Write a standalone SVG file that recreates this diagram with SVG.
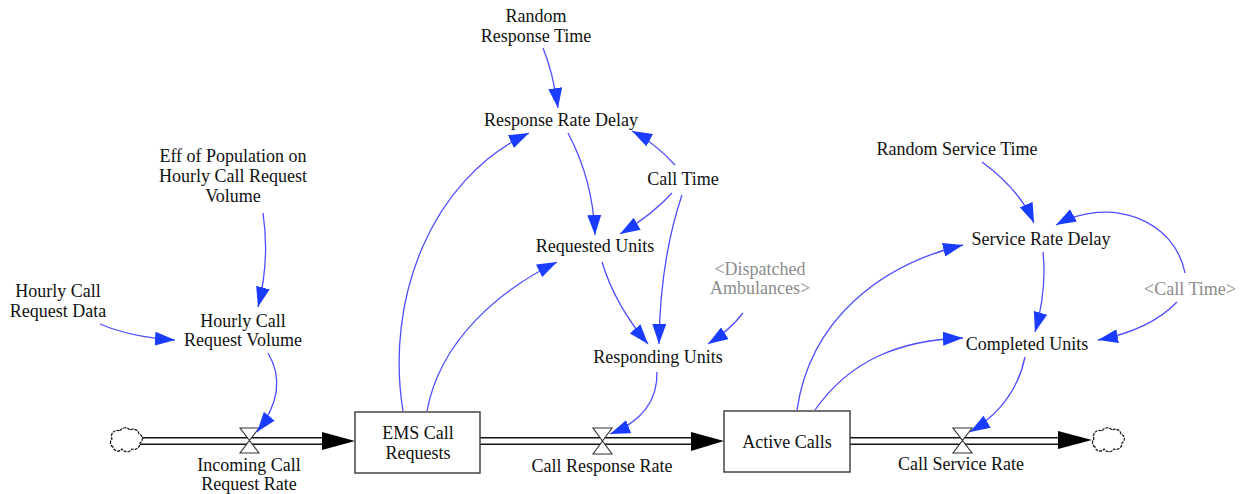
<svg xmlns="http://www.w3.org/2000/svg" width="1242" height="494" viewBox="0 0 1242 494" font-family="'Liberation Serif', 'Times New Roman', Times, serif">
  <style>
    text { font-family: 'Liberation Serif', 'Times New Roman', Times, serif; font-size: 18px; fill: #111; text-anchor: middle; }
    text.shadow { fill: #8c8c8c; }
    .stock { fill: #fff; stroke: #444; stroke-width: 1.5; }
    .pipe-out { fill: none; stroke: #111; stroke-width: 8; }
    .pipe-in { fill: none; stroke: #fff; stroke-width: 5; }
    .valve { fill: #fff; stroke: #333; stroke-width: 1.1; }
    .cloud { fill: #fff; stroke: #111; stroke-width: 1.2; stroke-dasharray: 3 1; }
    .flowhead { fill: #000; }
    .link { fill: none; stroke: #4d4dff; stroke-width: 1.3; marker-end: url(#arrow); }
  </style>
  <defs>
    <marker id="arrow" viewBox="0 0 20 14" refX="20" refY="7" markerWidth="20" markerHeight="14" markerUnits="userSpaceOnUse" orient="auto">
      <path d="M0,0 L20,7 L0,14 Z" fill="#1a3cff"/>
    </marker>
  </defs>

  <rect width="1242" height="494" fill="#fff"/>

  <!-- flow pipes -->
  <g id="pipes">
    <path class="pipe-out" d="M140,441 H324"/>
    <path class="pipe-in" d="M140,441 H324"/>
    <path class="pipe-out" d="M480,441 H693"/>
    <path class="pipe-in" d="M480,441 H693"/>
    <path class="pipe-out" d="M850,441 H1060"/>
    <path class="pipe-in" d="M850,441 H1060"/>
    <polygon class="flowhead" points="322,432 355,441 322,450"/>
    <polygon class="flowhead" points="691,432 724,441 691,451"/>
    <polygon class="flowhead" points="1058,431 1092,440 1058,449"/>
  </g>

  <!-- source and sink clouds -->
  <g id="source">
    <path class="cloud" d="M113,447 a5,5 0 0 1 -1,-8 a6,6 0 0 1 8,-8 a6,6 0 0 1 10,-1 a6,6 0 0 1 9,4 a5,5 0 0 1 1,9 a6,6 0 0 1 -8,6 a6,6 0 0 1 -10,0 a5,5 0 0 1 -9,-2 z"/>
  </g>
  <g id="sink">
    <path class="cloud" d="M1095,447 a5,5 0 0 1 -1,-8 a6,6 0 0 1 8,-8 a6,6 0 0 1 10,-1 a6,6 0 0 1 9,4 a5,5 0 0 1 1,9 a6,6 0 0 1 -8,6 a6,6 0 0 1 -10,0 a5,5 0 0 1 -9,-2 z"/>
  </g>

  <!-- stocks -->
  <g id="ems-call-requests">
    <rect class="stock" x="355" y="412" width="125" height="61"/>
    <text x="418" y="439">EMS Call</text>
    <text x="418" y="459">Requests</text>
  </g>
  <g id="active-calls">
    <rect class="stock" x="724" y="411" width="126" height="61"/>
    <text x="787" y="448">Active Calls</text>
  </g>

  <!-- flows (valves) -->
  <g id="incoming-call-request-rate">
    <polygon class="valve" points="240,428 259,428 240,453 259,453"/>
    <text x="249" y="471">Incoming Call</text>
    <text x="249" y="490">Request Rate</text>
  </g>
  <g id="call-response-rate">
    <polygon class="valve" points="593,428 612,428 593,454 612,454"/>
    <text x="602" y="472">Call Response Rate</text>
  </g>
  <g id="call-service-rate">
    <polygon class="valve" points="953,428 972,428 953,453 972,453"/>
    <text x="961" y="470">Call Service Rate</text>
  </g>

  <!-- auxiliaries -->
  <g id="random-response-time">
    <text x="536" y="22">Random</text>
    <text x="536" y="42">Response Time</text>
  </g>
  <g id="response-rate-delay">
    <text x="561" y="126">Response Rate Delay</text>
  </g>
  <g id="call-time">
    <text x="683" y="185">Call Time</text>
  </g>
  <g id="requested-units">
    <text x="595" y="252">Requested Units</text>
  </g>
  <g id="dispatched-ambulances">
    <text class="shadow" x="760" y="275">&lt;Dispatched</text>
    <text class="shadow" x="760" y="294">Ambulances&gt;</text>
  </g>
  <g id="responding-units">
    <text x="658" y="363">Responding Units</text>
  </g>
  <g id="eff-of-population">
    <text x="233" y="162">Eff of Population on</text>
    <text x="233" y="182">Hourly Call Request</text>
    <text x="233" y="202">Volume</text>
  </g>
  <g id="hourly-call-request-data">
    <text x="58" y="297">Hourly Call</text>
    <text x="58" y="317">Request Data</text>
  </g>
  <g id="hourly-call-request-volume">
    <text x="243" y="327">Hourly Call</text>
    <text x="243" y="346">Request Volume</text>
  </g>
  <g id="random-service-time">
    <text x="957" y="155">Random Service Time</text>
  </g>
  <g id="service-rate-delay">
    <text x="1041" y="245">Service Rate Delay</text>
  </g>
  <g id="call-time-shadow">
    <text class="shadow" x="1190" y="295">&lt;Call Time&gt;</text>
  </g>
  <g id="completed-units">
    <text x="1027" y="350">Completed Units</text>
  </g>

  <!-- causal links -->
  <g id="connectors">
    <path class="link" d="M543,48 Q553,72 558,108"/>
    <path class="link" d="M675,165 Q655,143 632,131"/>
    <path class="link" d="M568,133 Q593,180 595,235"/>
    <path class="link" d="M672,193 Q652,215 620,234"/>
    <path class="link" d="M682,195 Q660,260 659,344"/>
    <path class="link" d="M403,411 C385,300 430,180 529,133"/>
    <path class="link" d="M427,411 C440,340 500,290 557,262"/>
    <path class="link" d="M602,262 Q615,305 648,344"/>
    <path class="link" d="M743,313 Q730,330 708,344"/>
    <path class="link" d="M657,372 Q658,415 610,434"/>
    <path class="link" d="M100,324 Q130,337 175,340"/>
    <path class="link" d="M263,213 Q270,260 258,307"/>
    <path class="link" d="M268,353 Q290,390 257,432"/>
    <path class="link" d="M982,162 Q1020,190 1034,223"/>
    <path class="link" d="M1185,273 C1175,220 1110,195 1056,225"/>
    <path class="link" d="M1177,302 Q1150,330 1098,340"/>
    <path class="link" d="M1043,252 Q1047,290 1035,332"/>
    <path class="link" d="M797,410 C810,320 880,265 963,245"/>
    <path class="link" d="M815,410 C850,360 900,340 963,338"/>
    <path class="link" d="M1025,357 Q1015,405 970,432"/>
  </g>
</svg>
